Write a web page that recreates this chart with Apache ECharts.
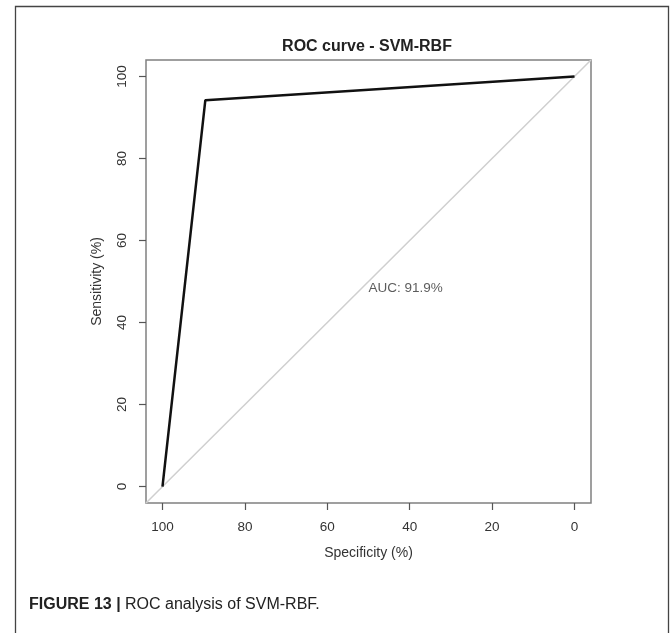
<!DOCTYPE html>
<html>
<head>
<meta charset="utf-8">
<script src="https://cdn.jsdelivr.net/npm/echarts@6/dist/echarts.min.js"></script>
<style>
html,body{margin:0;padding:0;background:#fff;}
#c{width:671px;height:633px;}
</style>
</head>
<body>
<div id="c"></div>
<script>
// Data
const specificity = [100, 89.6, 0];
const sensitivity = [0, 94.2, 100];
const diagSpec = [104, -4];
const diagSens = [-4, 104];
const tickValues = [0, 20, 40, 60, 80, 100];
const aucText = 'AUC: 91.9%';
const aucPos = [50, 50];

const roc = specificity.map((s, i) => [s, sensitivity[i]]);
const diag = diagSpec.map((s, i) => [s, diagSens[i]]);

const chart = echarts.init(document.getElementById('c'), null, {renderer: 'canvas'});
const font = 'Liberation Sans, Arial, sans-serif';
chart.setOption({
  animation: false,
  backgroundColor: '#fff',
  title: {
    text: 'ROC curve - SVM-RBF',
    left: 362, top: 34, textAlign: 'center',
    textStyle: {fontFamily: font, fontSize: 16, fontWeight: 'bold', color: '#222'}
  },
  grid: {
    left: 146, right: 80, top: 60, bottom: 130,
    show: true, borderColor: '#808080', borderWidth: 1.5, backgroundColor: 'transparent'
  },
  xAxis: {
    type: 'value', min: -4, max: 104, inverse: true,
    name: 'Specificity (%)', nameLocation: 'middle', nameGap: 43,
    nameTextStyle: {fontFamily: font, fontSize: 14, color: '#333'},
    axisLine: {show: false, onZero: false},
    splitLine: {show: false},
    axisTick: {show: true, inside: false, length: 7, customValues: tickValues, lineStyle: {color: '#555', width: 1.2}},
    axisLabel: {customValues: tickValues, margin: 17, fontFamily: font, fontSize: 13.5, color: '#333'}
  },
  yAxis: {
    type: 'value', min: -4, max: 104,
    name: 'Sensitivity (%)', nameLocation: 'middle', nameGap: 42,
    nameTextStyle: {fontFamily: font, fontSize: 14, color: '#333'},
    axisLine: {show: false, onZero: false},
    splitLine: {show: false},
    axisTick: {show: true, inside: false, length: 7, customValues: tickValues, lineStyle: {color: '#555', width: 1.2}},
    axisLabel: {customValues: tickValues, rotate: 90, margin: 17, fontFamily: font, fontSize: 13.5, color: '#333'}
  },
  graphic: [
    {type: 'rect', shape: {x: 15.5, y: 6.5, width: 653, height: 650},
     style: {fill: 'none', stroke: '#444', lineWidth: 1.3}, silent: true},
    {type: 'text', left: 29, top: 597,
     style: {
       text: '{b|FIGURE 13 |} ROC analysis of SVM-RBF.',
       fontFamily: font, fontSize: 16, fill: '#222',
       rich: {b: {fontFamily: font, fontSize: 16, fontWeight: 'bold', fill: '#222'}}
     }}
  ],
  series: [
    {type: 'line', data: diag, symbol: 'none', silent: true,
     lineStyle: {color: '#cfcfcf', width: 1.5}, z: 1},
    {type: 'line', data: roc, symbol: 'none', silent: true,
     lineStyle: {color: '#111', width: 2.5}, z: 3},
    {type: 'scatter', data: [aucPos], symbolSize: 0, silent: true,
     label: {show: true, position: [0, 0], align: 'left', verticalAlign: 'top',
             formatter: aucText, fontFamily: font, fontSize: 13.5, color: '#333'}}
  ]
});
</script>
</body>
</html>
